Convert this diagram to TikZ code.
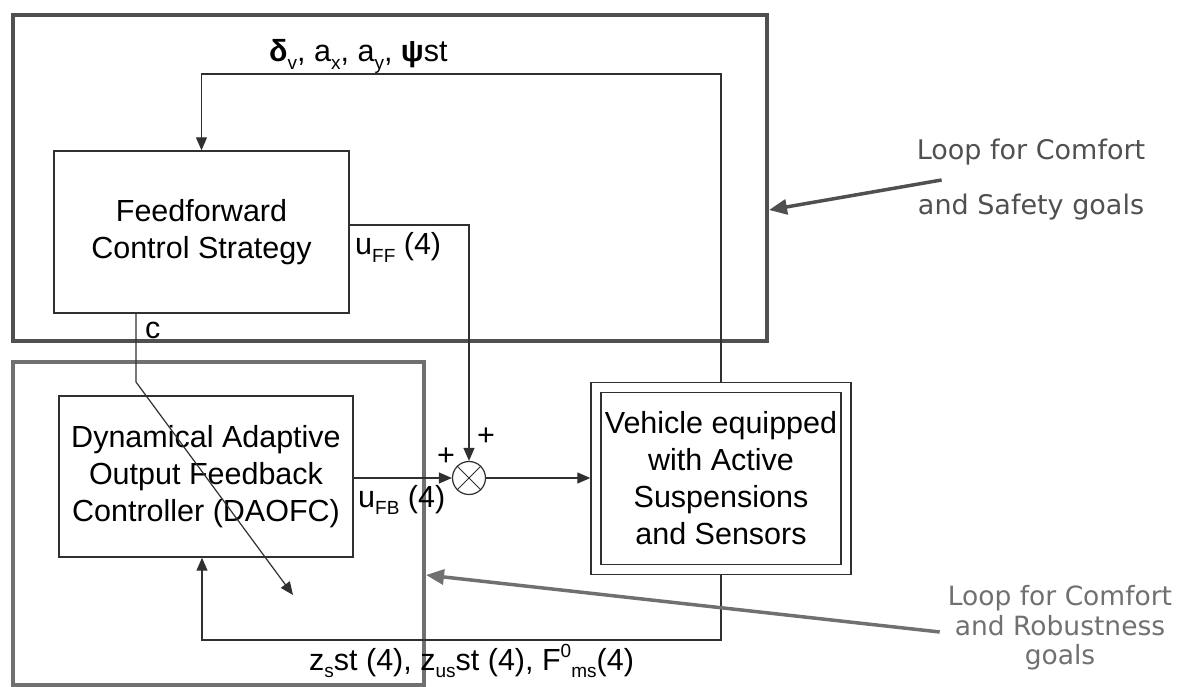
\documentclass[tikz,border=0pt]{standalone}
\usepackage{fontspec}
\setmainfont{Liberation Sans}
\newfontfamily\loopfont{DejaVu Sans}
\usetikzlibrary{positioning,arrows.meta}
\definecolor{loopdark}{HTML}{505050}
\definecolor{loopgray}{HTML}{707070}
\definecolor{linegray}{HTML}{303030}
\newcommand{\lo}[1]{\raisebox{-0.45ex}{\fontsize{19}{19}\selectfont #1}}
\newcommand{\hi}[1]{\raisebox{0.8ex}{\fontsize{19}{19}\selectfont #1}}

\begin{document}
\begin{tikzpicture}[
    x=1pt, y=-1pt,
    font=\fontsize{30.5}{37}\selectfont,
    block/.style={draw=linegray, line width=1.4pt, align=center, inner sep=0pt},
    loopbox/.style={line width=4pt, inner sep=0pt},
    arrow/.style={-{Triangle[length=13pt, width=11pt]}, line width=1.2pt, draw=linegray},
    goalarrow/.style={-{Triangle[length=18pt, width=15pt]}, line width=3.5pt},
    goallbl/.style={align=center, inner sep=0pt},
    lbl/.style={inner sep=0pt, anchor=base west}
  ]
    \useasboundingbox (0,0) rectangle (1179,687);

    \node[loopbox, draw=loopdark, minimum width=754pt, minimum height=326pt] (ffloop) at (390,178) {};
    \node[loopbox, draw=loopgray, minimum width=411pt, minimum height=323pt] (fbloop) at (218.5,523.5) {};

    \node[block, minimum width=295pt, minimum height=162pt] (ff) at (201.5,232) {Feedforward\\Control Strategy};
    \node[block, minimum width=294pt, minimum height=161pt] (daofc) at (206,476.5) {Dynamical Adaptive\\Output Feedback\\Controller (DAOFC)};
    \node[block, double, double distance=8.5pt, outer sep=5.65pt, minimum width=250pt, minimum height=182pt] (vehicle) at (721,478.5) {Vehicle equipped\\with Active\\Suspensions\\and Sensors};
    \node[draw=linegray, circle, line width=1.2pt, minimum size=33pt, inner sep=0pt] (sum) at (469,478) {};
    \draw[linegray, line width=0.8pt] (sum.north west) -- (sum.south east) (sum.north east) -- (sum.south west);

    \node[lbl] (meas) at (269,62) {\textbf{δ}\lo{v}, a\lo{x}, a\lo{y}, \textbf{ψ}st};
    \node[lbl] (clbl) at (145,338) {c};
    \node[lbl] (uff) at (355,255) {u\lo{FF} (4)};
    \node[lbl] (ufb) at (358,507) {u\lo{FB} (4)};
    \node (plusl) at (446,457) {+};
    \node (plusr) at (486,437) {+};
    \node[lbl] (states) at (309,670) {z\lo{s}st (4), z\lo{us}st (4), F\hi{0}\lo{ms}(4)};

    \node[goallbl, font=\loopfont\fontsize{27}{55}\selectfont, text=loopdark] (safetylbl) at (1031,180) {Loop for Comfort\\and Safety goals};
    \node[goallbl, font=\loopfont\fontsize{26.5}{29.5}\selectfont, text=loopgray] (robustlbl) at (1060,628) {Loop for Comfort\\and Robustness\\goals};

    \coordinate (topline) at (0,74);
    \coordinate (botline) at (0,640);
    \coordinate (cbend) at (136,382);
    \coordinate (ctip) at (293,595);

    \draw[arrow] (vehicle.north) -- (vehicle.north |- topline) -| (ff.north);
    \draw[arrow] ([yshift=7pt]ff.east) -| (sum.north);
    \draw[arrow] (cbend |- ff.south) -- (cbend) -- (ctip);
    \draw[arrow] (daofc.east |- sum.west) -- (sum.west);
    \draw[arrow] (sum.east) -- (sum.east -| vehicle.west);
    \draw[arrow] (vehicle.south) -- (vehicle.south |- botline) -| ([xshift=-4pt]daofc.south);

    \draw[goalarrow, loopdark] ([xshift=25pt]safetylbl.west) -- ([yshift=-32pt]ffloop.east);
    \draw[goalarrow, loopgray] ([shift={(-8pt,-4pt)}]robustlbl.west) -- ([yshift=-51.5pt]fbloop.east);
  \end{tikzpicture}
\end{document}
